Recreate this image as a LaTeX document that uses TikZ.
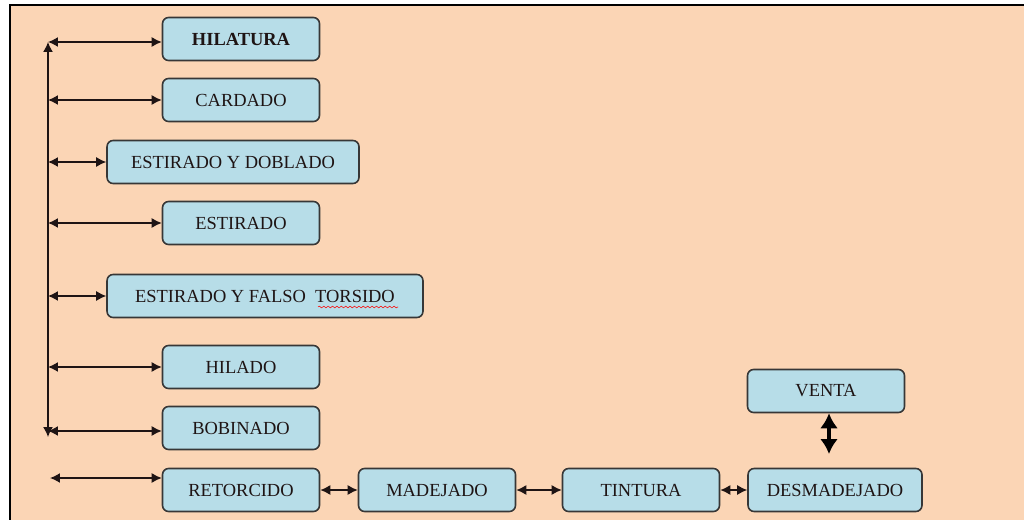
\documentclass[tikz,border=0pt]{standalone}
\usepackage{fontspec}
\setmainfont{Liberation Serif}
\usetikzlibrary{arrows.meta,decorations.pathmorphing}
\definecolor{peach}{RGB}{251,213,181}
\definecolor{paleblue}{RGB}{183,221,232}
\definecolor{edgegray}{RGB}{55,55,55}
\definecolor{inkdark}{RGB}{30,20,20}
\tikzset{
  stage/.style={draw=edgegray,fill=paleblue,rounded corners=3.5pt,line width=0.9pt,
    minimum width=3.14cm,minimum height=0.86cm,inner sep=0pt,text=inkdark,
    font=\fontsize{10.5}{12}\selectfont},
  sig/.style={{Latex[length=2mm,width=2mm]}-{Latex[length=2mm,width=2mm]},line width=0.8pt,inkdark},
  bigsig/.style={{Latex[length=3mm,width=3.6mm]}-{Latex[length=3mm,width=3.6mm]},line width=2.4pt,black}
}

\begin{document}
\begin{tikzpicture}[x=0.02cm,y=-0.02cm]
  \useasboundingbox (0,0) rectangle (1024,520);
  % page background and frame
  \fill[peach] (10,5) rectangle (1024,520);
  \draw[line width=1pt] (10,520)--(10,5)--(1024,5);
  % spinning stages (left column)
  \node[stage,font=\bfseries\fontsize{10.5}{12}\selectfont] (hil) at (241,39) {HILATURA};
  \node[stage] (card) at (241,100) {CARDADO};
  \node[stage,minimum width=5.04cm] (estdob) at (233,162) {ESTIRADO Y DOBLADO};
  \node[stage] (est) at (241,223) {ESTIRADO};
  \node[stage,minimum width=6.32cm] (estfal) at (265,296) {ESTIRADO Y FALSO\ \ TORSIDO};
  \node[stage] (hila) at (241,367) {HILADO};
  \node[stage] (bob) at (241,428) {BOBINADO};
  % bottom row
  \node[stage] (ret) at (241,490) {RETORCIDO};
  \node[stage] (mad) at (437,490) {MADEJADO};
  \node[stage] (tin) at (641,490) {TINTURA};
  \node[stage,minimum width=3.48cm] (desm) at (835,490) {DESMADEJADO};
  \node[stage] (ven) at (826,391) {VENTA};
  % spell-check mark
  \draw[red,line width=0.3pt,decorate,decoration={snake,amplitude=0.5pt,segment length=2.5pt}]
    (318,307)--(398,307);
  % trunk on the left
  \coordinate (top) at (48,42);
  \coordinate (bot) at (48,437);
  \draw[sig] (bot)--(top);
  \coordinate (j1) at (48,42);
  \coordinate (j2) at (48,100);
  \coordinate (j3) at (48,162);
  \coordinate (j4) at (48,223);
  \coordinate (j5) at (48,296);
  \coordinate (j6) at (48,367);
  \coordinate (j7) at (48,431);
  \coordinate (j8) at (50,478);
  \draw[sig] (j1)--(j1 -| hil.west);
  \draw[sig] (j2)--(j2 -| card.west);
  \draw[sig] (j3)--(j3 -| estdob.west);
  \draw[sig] (j4)--(j4 -| est.west);
  \draw[sig] (j5)--(j5 -| estfal.west);
  \draw[sig] (j6)--(j6 -| hila.west);
  \draw[sig] (j7)--(j7 -| bob.west);
  \draw[sig] (j8)--(j8 -| ret.west);
  % links along the bottom row
  \draw[sig] (ret)--(mad);
  \draw[sig] (mad)--(tin);
  \draw[sig] (tin)--(desm);
  \draw[bigsig] (ven.south -| 829,0)--(829,454);
\end{tikzpicture}
\end{document}
